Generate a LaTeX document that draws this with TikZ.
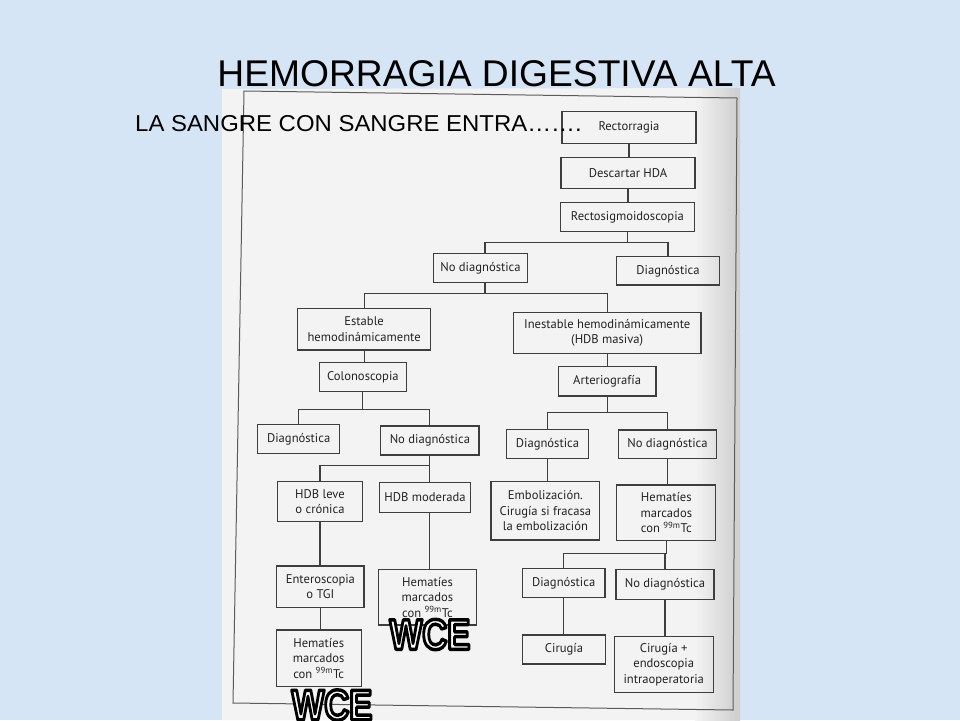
\documentclass[tikz,border=0pt]{standalone}
\usepackage{fontspec}
\setmainfont{Liberation Sans}
\newfontfamily\boxfont{PT Sans}
\definecolor{bgblue}{RGB}{214,229,245}
\definecolor{pagecol}{RGB}{243,243,243}
\definecolor{pageedge}{RGB}{205,205,205}
\definecolor{linegray}{RGB}{62,62,62}
\definecolor{txtgray}{RGB}{35,35,35}
\tikzset{
  fbox/.style={draw=linegray, line width=1.15pt, inner sep=0pt, align=center,
    font=\boxfont\fontsize{12.6}{15.5}\selectfont, text=txtgray},
  conn/.style={draw=linegray, line width=1.15pt},
  wcetext/.style={inner sep=0pt, font=\bfseries\fontsize{34.6}{34.6}\selectfont, text=white},
}
\newcommand{\wcebox}{\special{pdf:literal direct 0 G 2 Tr 2.8 w 1 j}\scalebox{1}[1.24]{WCE}\special{pdf:literal direct 0 Tr}}
\begin{document}
\begin{tikzpicture}[x=1pt,y=-1pt]
\useasboundingbox (0,0) rectangle (960,720);
% background
\fill[bgblue] (0,0) rectangle (960,720);
% scanned page
\fill[pagecol] (222,89) -- (740,88) -- (740,720) -- (222,720) -- cycle;
\shade[left color=pagecol, right color=pageedge] (695,88) rectangle (740,720);
% frame of the page
\draw[draw=linegray!85, line width=1pt] (244,91) -- (737,98) -- (733,710) -- (233,703) -- cycle;

% boxes
\node[fbox, minimum width=134pt, minimum height=31.6pt] (rect) at (629,127.5) {Rectorragia};
\node[fbox, minimum width=134pt, minimum height=31pt] (desc) at (628,172.8) {Descartar HDA};
\node[fbox, minimum width=134pt, minimum height=29pt] (rsig) at (627.4,217.2) {Rectosigmoidoscopia};
\node[fbox, minimum width=94pt, minimum height=29pt] (nd1) at (480.5,267.8) {No diagnóstica};
\node[fbox, minimum width=102.6pt, minimum height=28.3pt] (d1) at (668,270.8) {Diagnóstica};
\node[fbox, minimum width=133.2pt, minimum height=41.7pt] (est) at (364.1,329.2) {Estable\\hemodinámicamente};
\node[fbox, minimum width=187.6pt, minimum height=40.6pt] (inest) at (607.2,333) {Inestable hemodinámicamente\\(HDB masiva)};
\node[fbox, minimum width=87.4pt, minimum height=29.4pt] (colon) at (362.9,377) {Colonoscopia};
\node[fbox, minimum width=97.8pt, minimum height=29.3pt] (arter) at (607.1,381.3) {Arteriografía};
\node[fbox, minimum width=81.6pt, minimum height=29pt] (dL) at (298.7,438.8) {Diagnóstica};
\node[fbox, minimum width=98.2pt, minimum height=29pt] (ndL) at (429.9,440.5) {No diagnóstica};
\node[fbox, minimum width=82pt, minimum height=29pt] (dM) at (547.5,443.8) {Diagnóstica};
\node[fbox, minimum width=98.2pt, minimum height=28.3pt] (ndR) at (667.5,444.2) {No diagnóstica};
\node[fbox, minimum width=84.3pt, minimum height=40pt] (hleve) at (320,501.7) {HDB leve\\o crónica};
\node[fbox, minimum width=91.3pt, minimum height=29.6pt] (hmod) at (425,497.5) {HDB moderada};
\node[fbox, minimum width=108.8pt, minimum height=58.3pt] (embol) at (545.4,510.8) {Embolización.\\Cirugía si fracasa\\la embolización};
\node[fbox, minimum width=99.2pt, minimum height=55.7pt] (hematR) at (666.3,512.8) {Hematíes\\marcados\\con \textsuperscript{99m}Tc};
\node[fbox, minimum width=82.7pt, minimum height=29pt] (dB) at (563.7,582.8) {Diagnóstica};
\node[fbox, minimum width=98.1pt, minimum height=30pt] (ndB) at (665,584.3) {No diagnóstica};
\node[fbox, minimum width=87.2pt, minimum height=41.3pt] (entero) at (320.4,586.7) {Enteroscopia\\o TGI};
\node[fbox, minimum width=98.1pt, minimum height=55.7pt] (hematM) at (427.5,597.2) {Hematíes\\marcados\\con \textsuperscript{99m}Tc};
\node[fbox, minimum width=85.1pt, minimum height=56.7pt] (hematL) at (318.7,658.3) {Hematíes\\marcados\\con \textsuperscript{99m}Tc};
\node[fbox, minimum width=83.4pt, minimum height=29pt] (ciru) at (564,649.5) {Cirugía};
\node[fbox, minimum width=98.8pt, minimum height=55.6pt] (ciruE) at (663.7,664.5) {Cirugía +\\endoscopia\\intraoperatoria};

% junctions
\path (rsig.south) ++(0,10) coordinate (j1);
\path ([xshift=4.5pt]nd1.south) ++(0,11) coordinate (j2);
\path (colon.south) ++(0,17.6) coordinate (j3);
\path (arter.south) ++(0,15.7) coordinate (j4);
\path (ndL.south) ++(0,10) coordinate (j5);
\path (hematR.south) ++(0,12.6) coordinate (j6);

% connectors
\draw[conn] (rect.south) -- (rect.south |- desc.north);
\draw[conn] (desc.south) -- (desc.south |- rsig.north);
\draw[conn] (rsig.south) -- (j1);
\draw[conn] ([xshift=4.5pt]nd1.north) |- (j1) -| (d1.north);
\draw[conn] ([xshift=4.5pt]nd1.south) -- (j2);
\draw[conn] (est.north) |- (j2) -| (inest.north);
\draw[conn] (est.south) -- (est.south |- colon.north);
\draw[conn] (inest.south) -- (inest.south |- arter.north);
\draw[conn] (colon.south) -- (j3);
\draw[conn] (dL.north) |- (j3) -| (ndL.north);
\draw[conn] (arter.south) -- (j4);
\draw[conn] (dM.north) |- (j4) -| (ndR.north);
\draw[conn] (ndL.south) -- (j5);
\draw[conn] (hleve.north) |- (j5) -| ([xshift=4.4pt]hmod.north);
\draw[conn] ([xshift=4.4pt]hmod.south) -- ([xshift=1.9pt]hematM.north);
\draw[conn] (hleve.south) -- (hleve.south |- entero.north);
\draw[conn] (entero.south) -- (entero.south |- hematL.north);
\draw[conn] (dM.south) -- (dM.south |- embol.north);
\draw[conn] (ndR.south) -- (ndR.south |- hematR.north);
\draw[conn] (hematR.south) -- (j6);
\draw[conn] (dB.north) |- (j6) -| (ndB.north);
\draw[conn] (dB.south) -- (dB.south |- ciru.north);
\draw[conn] (ndB.south) -- (ndB.south |- ciruE.north);

% title and subtitle
\node[anchor=base, inner sep=0pt, font=\fontsize{37.2}{40}\selectfont] (title) at (496.5,86) {HEMORRAGIA DIGESTIVA ALTA};
\node[anchor=base west, inner sep=0pt, font=\fontsize{23}{26}\selectfont] (sub) at (135,131) {\scalebox{1.04}[1]{LA SANGRE CON SANGRE ENTRA……. }};

% WCE labels (outlined)
\node[wcetext] (wceA) at (430,634.5) {\wcebox};
\node[wcetext] (wceB) at (332,705) {\wcebox};
\end{tikzpicture}
\end{document}
